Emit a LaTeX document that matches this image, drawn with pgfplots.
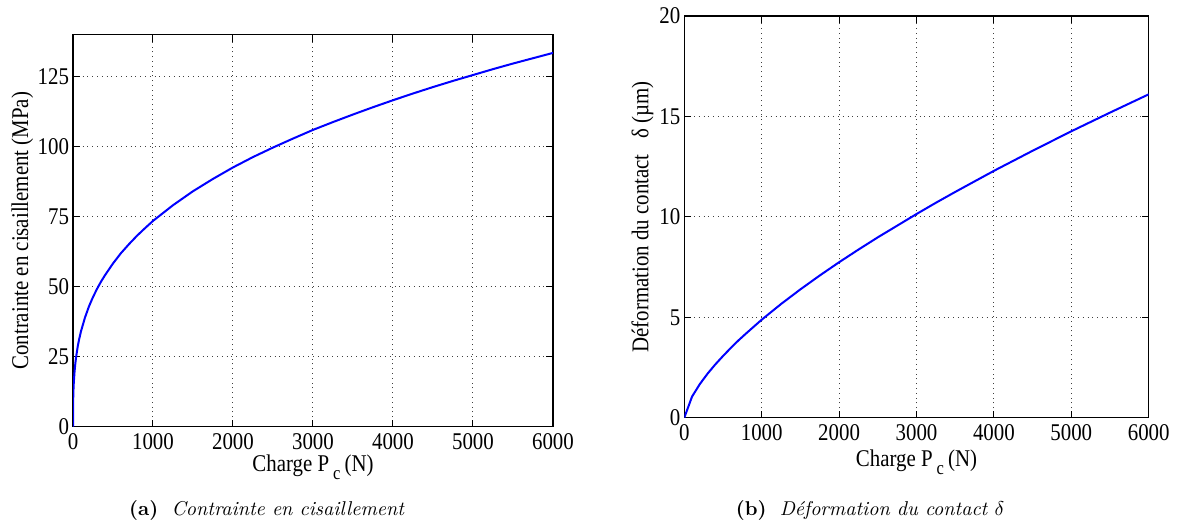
\documentclass[border=0pt]{standalone}
\usepackage{fontspec}
\usepackage{pgfplots}
\pgfplotsset{compat=1.18}
\newfontfamily\tnr[FakeStretch=0.87]{Liberation Serif}
\newcommand{\tnrsize}{\tnr\fontsize{12}{14}\selectfont}
\pgfplotsset{
  mstyle/.style={
    scale only axis, anchor=south west,
    xmin=0, xmax=6000, xtick={0,1000,...,6000},
    grid=major,
    grid style={black!75, dotted, line width=0.5pt},
    axis line style={black, line width=0.65pt},
    tick align=inside, major tick length=3.5pt,
    tick style={black, line width=0.5pt},
    ticklabel style={font=\tnrsize},
    yticklabel style={inner xsep=1.8pt},
    /pgf/number format/assume math mode=true,
    /pgf/number format/1000 sep={},
    label style={font=\tnrsize},
    xlabel={Charge P\,\raisebox{-4pt}{\tnr\fontsize{9.5}{10}\selectfont c}\,(N)},
  }
}
\begin{document}
\begin{tikzpicture}
\useasboundingbox (0,0) rectangle (590pt,-264.5pt);
\begin{axis}[mstyle,
  at={(36.5pt,-213.35pt)}, width=240pt, height=196pt,
  ymin=0, ymax=140, ytick={0,25,...,125},
  ylabel={Contrainte en cisaillement (MPa)},
  xlabel style={at={(axis description cs:0.5,0)}, anchor=base, yshift=-22.65pt},
  ylabel style={at={(axis description cs:0,0.5)}, anchor=base, yshift=22.5pt},
]
\addplot[blue, line width=1pt] coordinates {
(0,0) (1,7.3) (2,9.25) (5,12.6) (10,15.8) (20,19.9) (30,22.8) (40,25.1) (60,28.8)
(75,31.0) (100,34.1) (150,39.0) (200,43.0) (250,46.3) (300,49.2) (350,51.8)
(400,54.1) (500,58.3) (600,62.0) (700,65.2) (800,68.2) (900,70.9) (1000,73.5)
(1250,79.1) (1500,84.1) (1750,88.5) (2000,92.6) (2250,96.3) (2500,99.7)
(2750,102.9) (3000,106.0) (3250,108.8) (3500,111.5) (3750,114.1) (4000,116.6)
(4250,119.0) (4500,121.3) (4750,123.5) (5000,125.6) (5250,127.7) (5500,129.7)
(5750,131.6) (6000,133.5)
};
\end{axis}
\begin{axis}[mstyle,
  at={(342.15pt,-208.85pt)}, width=232.2pt, height=200.85pt,
  ymin=0, ymax=20, ytick={0,5,...,20},
  ylabel={Déformation du contact\hspace{8pt}δ (µm)},
  xlabel style={at={(axis description cs:0.5,0)}, anchor=base, yshift=-24.65pt},
  ylabel style={at={(axis description cs:0,0.5)}, anchor=base, yshift=18pt},
]
\addplot[blue, line width=1pt] coordinates {
(0,0) (100,1.05) (200,1.67) (300,2.19) (400,2.65) (500,3.07) (600,3.47) (700,3.85)
(800,4.20) (1000,4.88) (1250,5.66) (1500,6.39) (1750,7.08) (2000,7.74) (2250,8.37)
(2500,8.98) (3000,10.14) (3250,10.70) (3500,11.24) (4000,12.29) (4500,13.29)
(5000,14.26) (5500,15.19) (6000,16.1)
};
\end{axis}
\node[anchor=base, font=\fontsize{10}{12}\selectfont] at (133.5pt,-258pt) {\textbf{(a)}\ \ \textit{Contrainte en cisaillement}};
\node[anchor=base, font=\fontsize{10}{12}\selectfont] at (435pt,-258pt) {\textbf{(b)}\ \ \textit{Déformation du contact $\delta$}};
\end{tikzpicture}
\end{document}
